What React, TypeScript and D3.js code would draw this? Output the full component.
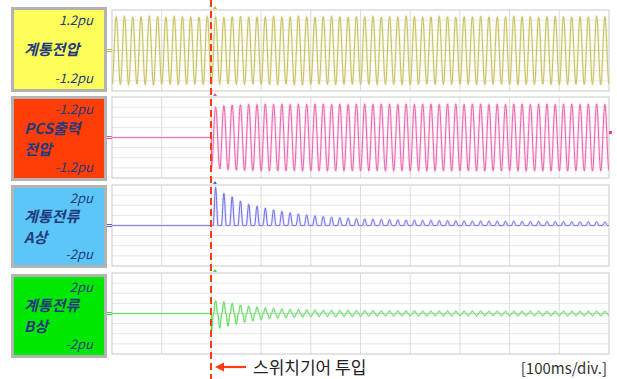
import React from "react";
import * as d3 from "d3";

const W = 617;
const H = 379;

// Time base: 10 divisions of 100 ms
const TOTAL_MS = 1000;
const SWITCH_MS = 200;
const PERIOD_MS = 1000 / 60;
const FIRST_PEAK_MS = 8.45;
const timeTicks = [0, 100, 200, 300, 400, 500, 600, 700, 800, 900, 1000];

// Per-cycle peak values in pu
const gridVoltagePeaks = [
  1.0, 1.01, 0.99, 1.0, 1.02, 1.0, 0.99, 1.01, 1.0, 1.0, 0.99, 1.01,
  1.0, 0.98, 1.0, 1.01, 0.99, 1.0, 1.0, 1.01, 0.99, 1.0, 1.02, 1.0,
  0.99, 1.0, 1.01, 1.0, 0.99, 1.0, 1.0, 1.01, 0.99, 1.0, 1.0, 1.02,
  1.0, 0.99, 1.0, 1.01, 1.0, 0.99, 1.0, 1.0, 1.01, 1.0, 0.99, 1.0,
  1.01, 1.0, 1.0, 0.99, 1.0, 1.01, 1.0, 0.99, 1.0, 1.0, 1.01, 1.0,
];
const pcsVoltagePeaks = [
  0.95, 0.9, 0.94, 0.96, 0.97, 0.98, 0.98, 0.99, 0.98, 0.99, 0.98, 0.99,
  0.98, 0.99, 0.99, 0.98, 0.99, 0.98, 0.99, 0.99, 0.98, 0.99, 0.99, 0.98,
  0.99, 0.98, 0.99, 0.99, 0.98, 0.99, 0.99, 0.98, 0.99, 0.99, 0.98, 0.99,
  0.98, 0.99, 0.99, 0.98, 0.99, 0.99, 0.98, 0.99, 0.99, 0.98, 0.99, 0.99,
  0.98,
];
const currentAPeaks = [
  1.88, 1.58, 1.42, 1.2, 1.04, 0.95, 0.86, 0.77, 0.7, 0.63, 0.57, 0.52,
  0.48, 0.44, 0.41, 0.38, 0.36, 0.34, 0.32, 0.31, 0.3, 0.29, 0.28, 0.27,
  0.26, 0.25, 0.25, 0.24, 0.24, 0.23, 0.23, 0.22, 0.22, 0.22, 0.21, 0.21,
  0.21, 0.2, 0.2, 0.2, 0.19, 0.19, 0.19, 0.18, 0.18, 0.18, 0.18, 0.17,
];
const currentBPositive = [
  0.63, 0.57, 0.49, 0.42, 0.37, 0.32, 0.28, 0.25, 0.22, 0.2, 0.19, 0.18,
  0.17, 0.16, 0.16, 0.15, 0.15, 0.14, 0.14, 0.14, 0.13, 0.13, 0.13, 0.13,
  0.13, 0.12, 0.12, 0.12, 0.12, 0.12, 0.12, 0.12, 0.12, 0.11, 0.11, 0.11,
  0.11, 0.11, 0.11, 0.11, 0.11, 0.11, 0.11, 0.11, 0.11, 0.11, 0.11, 0.11,
];
const currentBNegative = [
  0.9, 0.72, 0.62, 0.52, 0.43, 0.36, 0.3, 0.26, 0.23, 0.21, 0.19, 0.18,
  0.17, 0.16, 0.15, 0.15, 0.14, 0.14, 0.14, 0.13, 0.13, 0.13, 0.13, 0.12,
  0.12, 0.12, 0.12, 0.12, 0.12, 0.12, 0.11, 0.11, 0.11, 0.11, 0.11, 0.11,
  0.11, 0.11, 0.11, 0.11, 0.11, 0.11, 0.11, 0.11, 0.11, 0.11, 0.11, 0.11,
  0.11,
];

const channelNames = [["계통전압"], ["PCS출력", "전압"], ["계통전류", "A상"], ["계통전류", "B상"]];
const channelTopLabels = ["1.2pu", "-1.2pu", "2pu", "2pu"];
const channelBottomLabels = ["-1.2pu", "-1.2pu", "-2pu", "-2pu"];
const channelRanges = [1.2, 1.2, 2, 2];
const channelFills = ["#ffff5c", "#ff3d06", "#5cc6f6", "#00e800"];
const channelStrokes = ["#bdb648", "#ea4ca0", "#5858e6", "#44d444"];
const channelHalos = ["#eeeab8", "#f8c4e0", "#ccccf6", "#bcefbc"];

// Layout
const PLOT_LEFT = 112;
const PLOT_RIGHT = 609;
const PANEL_TOPS = [10, 97, 185, 273];
const PANEL_H = 81;
const BOX_LEFT = 11;
const BOX_RIGHT = 107;
const BOX_TOPS = [7, 96, 185, 274];
const BOX_BOTTOMS = [92, 181, 268, 358];
const SWITCH_X = 211;

const FONT = "'Noto Sans CJK KR', 'Noto Sans', sans-serif";
const LABEL_COLOR = "#223a7c";

const hump = (d: number, w: number) =>
  Math.abs(d) < w ? 0.5 * (1 + Math.cos((Math.PI * d) / w)) : 0;

const clampIdx = (i: number, n: number) => Math.max(0, Math.min(n - 1, i));

function cyclePos(t: number) {
  return (t - FIRST_PEAK_MS) / PERIOD_MS;
}

function gridVoltage(t: number) {
  const c = cyclePos(t);
  const n = clampIdx(Math.round(c), gridVoltagePeaks.length);
  return gridVoltagePeaks[n] * Math.cos(2 * Math.PI * c);
}

function pcsVoltage(t: number) {
  if (t < SWITCH_MS) return 0;
  const c = cyclePos(t);
  const n = clampIdx(Math.round(c) - 11, pcsVoltagePeaks.length);
  return pcsVoltagePeaks[n] * Math.cos(2 * Math.PI * c);
}

function currentA(t: number) {
  if (t < SWITCH_MS) return 0;
  const c = cyclePos(t);
  const n = Math.round(c);
  const i = n - 12;
  if (i < 0 || i >= currentAPeaks.length) return 0;
  return currentAPeaks[i] * hump(c - n, 0.3);
}

function currentB(t: number) {
  if (t < SWITCH_MS) return 0;
  const c = cyclePos(t);
  const n = Math.round(c);
  const m = Math.round(c - 0.5);
  let v = 0;
  const ip = n - 12;
  if (ip >= 0 && ip < currentBPositive.length) v += currentBPositive[ip] * hump(c - n, 0.25);
  const im = m - 11;
  if (im >= 0 && im < currentBNegative.length) v -= currentBNegative[im] * hump(c - 0.5 - m, 0.25);
  return v;
}

const signalFns = [gridVoltage, pcsVoltage, currentA, currentB];

const STEP = PERIOD_MS / 40;
const times: number[] = d3.range(0, TOTAL_MS + STEP / 2, STEP);
// keep an exact sample right at the switching instant
const sampleTimes = [...times.filter((t) => t < SWITCH_MS), SWITCH_MS - 0.001, SWITCH_MS, ...times.filter((t) => t > SWITCH_MS)];

export default function App() {
  const x = d3.scaleLinear().domain([0, TOTAL_MS]).range([PLOT_LEFT, PLOT_RIGHT]);

  return (
    <svg width={W} height={H} style={{ display: "block", position: "absolute", left: 0, top: 0, background: "#fff" }}>
      <defs>
        {PANEL_TOPS.map((top, i) => (
          <clipPath id={`clip${i}`} key={i}>
            <rect x={PLOT_LEFT} y={top} width={PLOT_RIGHT - PLOT_LEFT} height={PANEL_H} />
          </clipPath>
        ))}
      </defs>
      <rect x={0} y={0} width={W} height={H} fill="#fff" />

      {PANEL_TOPS.map((top, i) => {
        const range = channelRanges[i];
        const y = d3.scaleLinear().domain([-range, range]).range([top + PANEL_H, top]);
        const line = d3
          .line<number>()
          .x((t) => x(t))
          .y((t) => y(signalFns[i](t)));
        const path = line(sampleTimes) || "";
        const rows = d3.range(1, 8).map((k) => top + (PANEL_H * k) / 8);
        const center = y(0);
        const names = channelNames[i];
        const mid = (BOX_TOPS[i] + BOX_BOTTOMS[i]) / 2;
        return (
          <g key={i}>
            {/* label box */}
            <rect
              x={BOX_LEFT + 1.5}
              y={BOX_TOPS[i] + 1.5}
              width={BOX_RIGHT - BOX_LEFT - 3}
              height={BOX_BOTTOMS[i] - BOX_TOPS[i] - 3}
              fill={channelFills[i]}
              stroke="#b3b3b3"
              strokeWidth={3}
            />
            <text
              x={93}
              y={BOX_TOPS[i] + 18}
              textAnchor="end"
              fontFamily={FONT}
              fontStyle="italic"
              fontSize={13}
              fill={LABEL_COLOR}
            >
              {channelTopLabels[i]}
            </text>
            <text
              x={93}
              y={BOX_BOTTOMS[i] - 9}
              textAnchor="end"
              fontFamily={FONT}
              fontStyle="italic"
              fontSize={13}
              fill={LABEL_COLOR}
            >
              {channelBottomLabels[i]}
            </text>
            {names.map((nm, j) => {
              const base = mid + 5.5 + (j - (names.length - 1) / 2) * 21;
              return (
                <text
                  key={j}
                  x={24}
                  y={base}
                  fontFamily={FONT}
                  fontStyle="italic"
                  fontWeight={600}
                  fontSize={15}
                  fill={LABEL_COLOR}
                >
                  {nm}
                </text>
              );
            })}

            {/* plot frame and grid */}
            <rect x={PLOT_LEFT} y={top} width={PLOT_RIGHT - PLOT_LEFT} height={PANEL_H} fill="#fff" />
            {rows.map((ry, k) => (
              <line
                key={`r${k}`}
                x1={PLOT_LEFT}
                x2={PLOT_RIGHT}
                y1={ry}
                y2={ry}
                stroke={k === 3 ? "#cfcfcf" : "#e6e6e6"}
                strokeWidth={1}
              />
            ))}
            {timeTicks.slice(1, -1).map((t) => (
              <line key={`v${t}`} x1={x(t)} x2={x(t)} y1={top} y2={top + PANEL_H} stroke="#dcdcdc" strokeWidth={1} />
            ))}
            <rect
              x={PLOT_LEFT}
              y={top}
              width={PLOT_RIGHT - PLOT_LEFT}
              height={PANEL_H}
              fill="none"
              stroke="#c9c9c9"
              strokeWidth={1}
            />

            {/* signal */}
            <g clipPath={`url(#clip${i})`}>
              <path d={path} fill="none" stroke={channelHalos[i]} strokeWidth={2.6} strokeOpacity={0.5} />
              <path d={path} fill="none" stroke={channelStrokes[i]} strokeWidth={0.85} />
            </g>

            {/* channel marker */}
            <line x1={107} x2={112} y1={center - 1} y2={center - 1} stroke={channelStrokes[i]} strokeWidth={1} />
            <line x1={107} x2={112} y1={center + 1} y2={center + 1} stroke={channelStrokes[i]} strokeWidth={1} />
            {/* trigger marker */}
            <path d={`M${SWITCH_X + 2},${top - 1} l2,-3 l2,3 z`} fill={channelStrokes[i]} />
          </g>
        );
      })}

      {/* PCS channel end marker */}
      <rect x={609} y={131} width={3} height={3} fill="#e8409a" />

      {/* switching instant */}
      <line x1={SWITCH_X} x2={SWITCH_X} y1={0} y2={H} stroke="#ff3a10" strokeWidth={2} strokeDasharray="7,4" />

      {/* annotation */}
      <line x1={222} x2={246} y1={367} y2={367} stroke="#ff3a10" strokeWidth={2.2} />
      <path d="M215,367 L224,362.5 L224,371.5 Z" fill="#ff3a10" />
      <text x={253} y={374} fontFamily={FONT} fontSize={17} fill="#222">
        스위치기어 투입
      </text>
      <text x={607} y={374} textAnchor="end" fontFamily={FONT} fontSize={15} fill="#333">
        [100ms/div.]
      </text>
    </svg>
  );
}
